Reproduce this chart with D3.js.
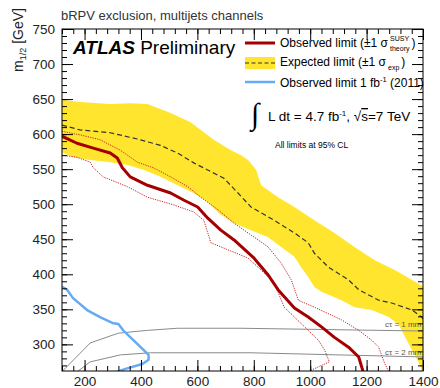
<!DOCTYPE html>
<html>
<head>
<meta charset="UTF-8">
<script src="https://d3js.org/d3.v7.min.js"></script>
<style>
  body { margin: 0; background: #fff; }
  svg text { font-family: "Liberation Sans", Arial, sans-serif; }
</style>
</head>
<body>
<svg width="440" height="388"></svg>
<script>
// axis ticks
const xTicks = [200, 400, 600, 800, 1000, 1200, 1400];
const yTicks = [300, 350, 400, 450, 500, 550, 600, 650, 700, 750];

// [m0, m1/2] in GeV
const bandUpper = [[120,649],[184,646],[291,643],[362,644],[423,643],[505,630],[576,617],[612,606],[658,592],[719,577],[755,570],[780,563],[808,549],[826,527],[886,510],[944,496],[1015,477],[1086,459],[1157,439],[1229,420],[1300,406],[1361,392],[1400,383]];
const bandLower = [[120,574],[159,567],[220,563],[291,560],[352,556],[409,549],[469,539],[530,527],[587,516],[637,503],[683,485],[730,473],[790,463],[851,453],[897,439],[944,425],[968,410],[993,396],[1015,382],[1040,375],[1111,363],[1157,353],[1218,349],[1279,339],[1314,328],[1336,311],[1361,292],[1386,273],[1396,262],[1400,262]];
const expected = [[120,613],[184,606],[291,602],[387,593],[469,584],[530,573],[587,559],[694,537],[744,516],[790,496],[872,477],[944,459],[993,445],[1015,430],[1065,410],[1136,392],[1172,378],[1243,363],[1289,359],[1361,349],[1396,339],[1407,330]];
const observed = [[120,597],[173,587],[231,580],[291,573],[316,566],[334,552],[362,539],[423,527],[505,516],[551,506],[601,496],[637,480],[683,463],[730,449],[801,423],[851,399],[886,378],[944,352],[993,339],[1040,325],[1086,310],[1136,296],[1172,282],[1190,258]];
const theoryUp = [[120,604],[184,599],[255,592],[327,577],[352,570],[387,560],[444,552],[505,539],[566,525],[612,510],[673,492],[730,473],[801,453],[851,439],[897,416],[933,392],[958,363],[1015,353],[1111,335],[1172,320],[1218,306],[1243,296],[1264,273],[1282,258]];
const theoryDown = [[120,570],[173,567],[220,560],[231,552],[266,539],[352,525],[423,510],[516,499],[587,489],[623,477],[637,459],[648,445],[708,435],[780,423],[826,406],[872,388],[908,353],[944,339],[993,320],[1029,306],[1051,292],[1068,275],[997,262],[990,258]];
const observed2011 = [[120,382],[138,378],[159,366],[209,349],[255,339],[302,330],[320,329],[337,320],[373,306],[409,292],[427,285],[427,278],[405,272],[345,265],[295,258]];
const ctau1mm = [[120,261],[220,302],[320,316],[423,320],[530,323],[755,323],[1407,319]];
const ctau2mm = [[177,262],[220,275],[327,285],[434,288],[790,288],[1407,282]];
const ctauLabels = ["cτ = 1 mm", "cτ = 2 mm"];

const svg = d3.select("svg");
const x = d3.scaleLinear().domain([120, 1400]).range([62, 423]);
const y = d3.scaleLinear().domain([262, 750]).range([371, 29]);

svg.append("defs").append("clipPath").attr("id", "plot")
  .append("rect").attr("x", 62).attr("y", 29).attr("width", 361).attr("height", 342);

const plot = svg.append("g").attr("clip-path", "url(#plot)");
const line = d3.line().x(d => x(d[0])).y(d => y(d[1]));

// expected +-1 sigma band
plot.append("path")
  .attr("d", line(bandUpper.concat(bandLower.slice().reverse())) + "Z")
  .attr("fill", "#ffe52e");

plot.append("path").attr("d", line(ctau1mm)).attr("fill", "none").attr("stroke", "#8a8a8a").attr("stroke-width", 1);
plot.append("path").attr("d", line(ctau2mm)).attr("fill", "none").attr("stroke", "#8a8a8a").attr("stroke-width", 1);

plot.append("path").attr("d", line(expected)).attr("fill", "none")
  .attr("stroke", "#333").attr("stroke-width", 1.2).attr("stroke-dasharray", "5,3");

plot.append("path").attr("d", line(theoryUp)).attr("fill", "none")
  .attr("stroke", "#c92020").attr("stroke-width", 1).attr("stroke-dasharray", "1.2,1.2");
plot.append("path").attr("d", line(theoryDown)).attr("fill", "none")
  .attr("stroke", "#c92020").attr("stroke-width", 1).attr("stroke-dasharray", "1.2,1.2");

plot.append("path").attr("d", line(observed)).attr("fill", "none")
  .attr("stroke", "#a50000").attr("stroke-width", 3).attr("stroke-linejoin", "round");

plot.append("path").attr("d", line(observed2011)).attr("fill", "none")
  .attr("stroke", "#66aaf5").attr("stroke-width", 2.5).attr("stroke-linejoin", "round");

// c tau labels
ctauLabels.forEach((t, i) => {
  svg.append("text").attr("x", 385).attr("y", i === 0 ? 327 : 355)
    .attr("font-size", 8).attr("fill", "#555").text(t);
});

// axes, ROOT style ticks inside
const yMinor = d3.range(270, 751, 10);
const xMinor = d3.range(120, 1401, 40);
svg.append("g").attr("transform", "translate(62,0)")
  .call(d3.axisLeft(y).tickValues(yTicks).tickSize(-11).tickPadding(7))
  .call(g => g.select(".domain").remove())
  .call(g => g.selectAll("text").attr("font-size", 13.5).attr("fill", "#222"));
svg.append("g").attr("transform", "translate(62,0)")
  .call(d3.axisLeft(y).tickValues(yMinor).tickSize(-5).tickFormat(""))
  .call(g => g.select(".domain").remove());
svg.append("g").attr("transform", "translate(423,0)")
  .call(d3.axisRight(y).tickValues(yTicks).tickSize(-11).tickFormat(""))
  .call(g => g.select(".domain").remove());
svg.append("g").attr("transform", "translate(423,0)")
  .call(d3.axisRight(y).tickValues(yMinor).tickSize(-5).tickFormat(""))
  .call(g => g.select(".domain").remove());

svg.append("g").attr("transform", "translate(0,371)")
  .call(d3.axisBottom(x).tickValues(xTicks).tickFormat(d3.format("d")).tickSize(-11).tickPadding(5))
  .call(g => g.select(".domain").remove())
  .call(g => g.selectAll("text").attr("font-size", 13.5).attr("fill", "#222"));
svg.append("g").attr("transform", "translate(0,371)")
  .call(d3.axisBottom(x).tickValues(xMinor).tickSize(-5).tickFormat(""))
  .call(g => g.select(".domain").remove());
svg.append("g").attr("transform", "translate(0,29)")
  .call(d3.axisTop(x).tickValues(xTicks).tickSize(-11).tickFormat(""))
  .call(g => g.select(".domain").remove());
svg.append("g").attr("transform", "translate(0,29)")
  .call(d3.axisTop(x).tickValues(xMinor).tickSize(-5).tickFormat(""))
  .call(g => g.select(".domain").remove());

svg.append("rect").attr("x", 62).attr("y", 29).attr("width", 361).attr("height", 342)
  .attr("fill", "none").attr("stroke", "#000").attr("stroke-width", 1);

// titles
svg.append("text").attr("x", 61).attr("y", 20).attr("font-size", 13).attr("fill", "#333")
  .text("bRPV exclusion, multijets channels");

const yt = svg.append("text").attr("transform", "translate(23,8) rotate(-90)")
  .attr("text-anchor", "end").attr("font-size", 14).attr("fill", "#222");
yt.append("tspan").text("m");
yt.append("tspan").attr("font-size", 9).attr("dy", 3).text("1/2");
yt.append("tspan").attr("dy", -3).text(" [GeV]");

const atlas = svg.append("text").attr("x", 73).attr("y", 54).attr("font-size", 19);
atlas.append("tspan").attr("font-weight", "bold").attr("font-style", "italic").text("ATLAS");
atlas.append("tspan").text(" Preliminary");

// legend
function sigmaLabel(yPos, main, sup, sub, tail) {
  const t = svg.append("text").attr("x", 280).attr("y", yPos).attr("font-size", 12).text(main);
  const w = t.node().getComputedTextLength();
  if (sup) svg.append("text").attr("x", 282 + w).attr("y", yPos - 6.5).attr("font-size", 7).text(sup);
  const s = svg.append("text").attr("x", 282 + w).attr("y", yPos + 3.5).attr("font-size", 7).text(sub);
  const w2 = Math.max(s.node().getComputedTextLength(), sup ? 19 : 0);
  svg.append("text").attr("x", 284 + w + w2).attr("y", yPos).attr("font-size", 12).text(tail);
}
svg.append("line").attr("x1", 245).attr("x2", 275).attr("y1", 43).attr("y2", 43)
  .attr("stroke", "#a50000").attr("stroke-width", 3);
sigmaLabel(47, "Observed limit (±1 σ", "SUSY", "theory", ")");

svg.append("rect").attr("x", 245).attr("y", 57).attr("width", 30).attr("height", 12).attr("fill", "#ffe52e");
svg.append("line").attr("x1", 245).attr("x2", 275).attr("y1", 63).attr("y2", 63)
  .attr("stroke", "#333").attr("stroke-width", 1.2).attr("stroke-dasharray", "4,2.5");
sigmaLabel(66, "Expected limit (±1 σ", null, "exp", ")");

svg.append("line").attr("x1", 245).attr("x2", 275).attr("y1", 82).attr("y2", 82)
  .attr("stroke", "#66aaf5").attr("stroke-width", 2.5);
const l3 = svg.append("text").attr("x", 280).attr("y", 87).attr("font-size", 12);
l3.append("tspan").text("Observed limit 1 fb");
l3.append("tspan").attr("font-size", 7.5).attr("dy", -5).text("-1");
l3.append("tspan").attr("dy", 5).text(" (2011)");

// luminosity
svg.append("text").attr("x", 251).attr("y", 124).attr("font-size", 30)
  .style("font-family", "DejaVu Sans").attr("font-weight", 200).text("∫");
const lum = svg.append("text").attr("x", 268).attr("y", 121).attr("font-size", 13.5);
lum.append("tspan").text("L dt = 4.7 fb");
lum.append("tspan").attr("font-size", 8).attr("dy", -5).text("-1");
lum.append("tspan").attr("dy", 5).text(", √");
lum.append("tspan").attr("text-decoration", "overline").text("s");
lum.append("tspan").text("=7 TeV");

svg.append("text").attr("x", 275).attr("y", 148).attr("font-size", 8.5).text("All limits at 95% CL");
</script>
</body>
</html>
